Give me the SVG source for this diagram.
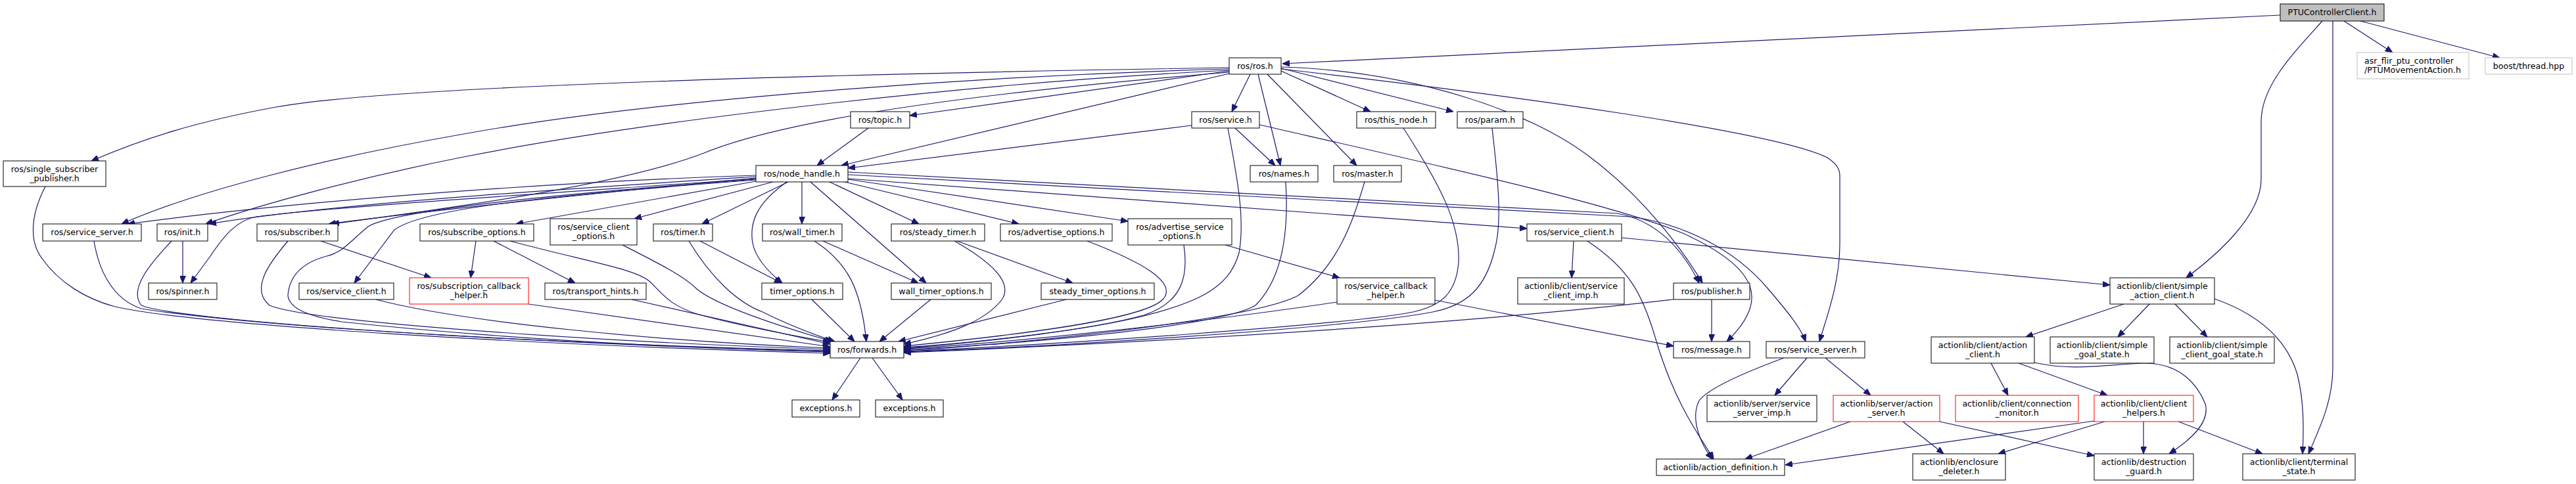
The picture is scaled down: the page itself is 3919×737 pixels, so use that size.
<svg xmlns="http://www.w3.org/2000/svg" width="3919" height="737" viewBox="0 0 3919 737">
<style>
rect{fill:#fff;stroke:#000;stroke-width:1}
.r rect{stroke:#ff0000}
.g rect{stroke:#bfbfbf}
.root rect{fill:#bfbfbf}
text{font-family:'DejaVu Sans','Liberation Sans',sans-serif;font-size:12.6px;text-anchor:middle;fill:#000}
.l text{text-anchor:start}
#edges path{fill:none;stroke:#191970;stroke-width:1.2;marker-end:url(#a)}
</style>
<defs>
<marker id="a" markerWidth="11" markerHeight="9" refX="11" refY="4.5" orient="auto" markerUnits="userSpaceOnUse"><path d="M0,0 L11,4.5 L0,9 z" fill="#191970" stroke="#191970" stroke-width="1"/></marker>
</defs>
<rect x="0" y="0" width="3919" height="737" style="fill:#fff;stroke:none"/>
<g id="edges">
<path d="M3469,23 L1951,97"/>
<path d="M3533,32 C3490,80 3440,130 3440,185 L3440,273 C3440,330 3370,390 3326,423"/>
<path d="M3549,32 L3549,560 C3549,610 3530,650 3512,691"/>
<path d="M3566,32 L3640,80"/>
<path d="M3591,32 L3803,88"/>
<path d="M1870,103 C1300,112 600,130 420,163 C300,185 220,210 139,245"/>
<path d="M1870,105 C1500,115 1000,150 700,205 C500,240 300,290 185,341"/>
<path d="M1870,107 C1500,125 1000,180 700,240 C550,270 400,310 313,341"/>
<path d="M1870,110 C1500,140 1200,180 1071,233 C950,280 700,315 505,341"/>
<path d="M1870,108 L1384,176"/>
<path d="M1870,112 L1280,252"/>
<path d="M1902,113 L1874,170"/>
<path d="M1914,113 L1948,252"/>
<path d="M1928,113 L2064,252"/>
<path d="M1949,108 L2085,170"/>
<path d="M1949,104 L2211,170"/>
<path d="M1949,102 C2150,108 2330,170 2420,240 C2500,300 2560,380 2590,431"/>
<path d="M1949,105 C2300,145 2700,200 2780,240 C2795,250 2799,258 2799,268 L2799,370 C2799,430 2780,480 2768,520"/>
<path d="M1321,195 L1243,252"/>
<path d="M1813,191 L1290,256"/>
<path d="M1879,195 L1940,252"/>
<path d="M1868,195 C1880,260 1895,330 1885,385 C1870,440 1820,465 1700,490 C1600,510 1450,525 1375,530"/>
<path d="M1916,190 C2200,255 2450,310 2560,355 C2680,410 2690,460 2627,520"/>
<path d="M1290,266 L2480,330 C2560,340 2640,380 2690,440 C2720,475 2740,500 2747,520"/>
<path d="M1290,262 L2460,325 C2520,335 2560,380 2585,431"/>
<path d="M1290,272 L2323,348"/>
<path d="M1262,277 L1398,341"/>
<path d="M1285,277 L1550,341"/>
<path d="M1290,273 L1716,337"/>
<path d="M1220,277 L1220,341"/>
<path d="M1199,277 L1068,341"/>
<path d="M1176,277 L965,333"/>
<path d="M1150,276 L785,341"/>
<path d="M1197,277 C1150,310 1140,340 1145,370 C1150,395 1170,415 1190,431"/>
<path d="M1233,277 L1409,431"/>
<path d="M1150,267 C900,275 500,300 194,341"/>
<path d="M1150,269 C900,285 500,310 318,341"/>
<path d="M1150,271 C950,290 700,315 500,341"/>
<path d="M1150,272 C900,290 500,315 390,330 C360,335 340,360 320,390 L290,431"/>
<path d="M1150,274 C800,300 640,320 600,350 L539,431"/>
<path d="M1150,273 C850,295 600,320 560,345 C530,370 520,385 497,390 C460,400 440,420 438,450 C440,470 470,482 520,490 C800,520 1100,532 1263,535"/>
<path d="M69,284 C45,330 45,370 65,395 C90,430 130,455 175,467 C300,495 800,525 1263,538"/>
<path d="M143,367 C150,410 170,455 215,470 C400,500 900,525 1263,536"/>
<path d="M278,367 L278,431"/>
<path d="M261,367 C230,400 195,440 215,465 C260,485 700,520 1263,534"/>
<path d="M438,367 C410,400 380,440 410,465 C470,490 900,520 1263,532"/>
<path d="M488,367 L656,423"/>
<path d="M572,456 C700,490 1000,520 1263,530"/>
<path d="M804,463 L1263,528"/>
<path d="M961,456 L1263,524"/>
<path d="M724,367 L716,423"/>
<path d="M751,367 L875,431"/>
<path d="M776,367 C900,400 970,410 990,430 C1010,450 1020,465 1060,478 C1120,495 1200,510 1263,521"/>
<path d="M947,373 C1000,400 1040,420 1060,440 C1090,465 1180,495 1266,520"/>
<path d="M1048,367 C1080,420 1120,460 1160,475 C1200,495 1240,510 1270,520"/>
<path d="M1065,367 L1189,431"/>
<path d="M1235,456 L1300,520"/>
<path d="M1252,367 L1397,431"/>
<path d="M1239,367 C1290,400 1310,440 1318,520"/>
<path d="M1416,456 L1338,520"/>
<path d="M1456,367 L1632,431"/>
<path d="M1452,367 C1510,400 1540,430 1525,455 C1500,490 1440,510 1375,524"/>
<path d="M1622,456 L1367,520"/>
<path d="M1654,367 C1740,400 1790,430 1770,455 C1740,490 1500,515 1375,527"/>
<path d="M1801,373 C1808,420 1800,460 1740,480 C1650,505 1450,525 1375,529"/>
<path d="M1864,373 L2038,423"/>
<path d="M1956,277 C1960,340 1955,420 1910,465 C1850,500 1500,528 1375,532"/>
<path d="M2076,277 C2060,330 2040,400 1975,450 C1900,490 1500,528 1375,534"/>
<path d="M2135,195 C2190,280 2222,340 2219,400 C2215,445 2195,465 2150,475 C2050,495 1600,525 1375,535"/>
<path d="M2270,195 C2280,280 2285,340 2274,380 C2260,440 2230,465 2180,475 C2050,500 1600,528 1375,536"/>
<path d="M2034,460 C1800,495 1500,525 1375,531"/>
<path d="M2183,457 L2546,527"/>
<path d="M2546,456 C2300,485 1900,515 1375,537"/>
<path d="M2604,456 L2604,520"/>
<path d="M2394,367 L2391,423"/>
<path d="M2415,367 C2480,410 2500,450 2520,520 C2550,620 2590,670 2607,699"/>
<path d="M2467,362 L3210,434"/>
<path d="M2714,545 C2660,565 2600,590 2585,610 C2570,640 2590,680 2605,699"/>
<path d="M2749,545 L2700,602"/>
<path d="M2777,545 L2846,602"/>
<path d="M2815,642 L2655,699"/>
<path d="M2895,642 L2957,691"/>
<path d="M2951,642 L3186,694"/>
<path d="M3186,641 L2716,708"/>
<path d="M3202,642 L3040,691"/>
<path d="M3261,642 L3261,691"/>
<path d="M3314,642 L3442,691"/>
<path d="M3029,553 L3055,602"/>
<path d="M3071,553 L3206,602"/>
<path d="M3095,552 C3150,565 3200,556 3260,553 C3320,552 3345,590 3355,615 C3362,640 3340,665 3300,691"/>
<path d="M3231,463 L3082,513"/>
<path d="M3270,463 L3222,513"/>
<path d="M3309,463 L3358,513"/>
<path d="M3369,455 C3440,480 3480,520 3495,570 C3505,610 3505,650 3503,691"/>
<path d="M1309,545 L1266,609"/>
<path d="M1327,545 L1373,609"/>
</g>
<g id="n1" class="root"><rect x="3469" y="6" width="158" height="26"/><text x="3548" y="23">PTUControllerClient.h</text></g>
<g id="n2"><rect x="1870" y="88" width="79" height="25"/><text x="1909.5" y="105">ros/ros.h</text></g>
<g id="n3" class="g l"><rect x="3586" y="80" width="170" height="40"/><text x="3597" y="96.5">asr_flir_ptu_controller</text><text x="3597" y="110.5">/PTUMovementAction.h</text></g>
<g id="n4" class="g"><rect x="3781" y="88" width="132" height="25"/><text x="3847" y="105">boost/thread.hpp</text></g>
<g id="n5"><rect x="5" y="245" width="156" height="39"/><text x="83" y="261.5">ros/single_subscriber</text><text x="83" y="275.5">_publisher.h</text></g>
<g id="n6"><rect x="65" y="341" width="150" height="26"/><text x="140" y="358">ros/service_server.h</text></g>
<g id="n7"><rect x="239" y="341" width="77" height="26"/><text x="277.5" y="358">ros/init.h</text></g>
<g id="n8"><rect x="391" y="341" width="123" height="26"/><text x="452.5" y="358">ros/subscriber.h</text></g>
<g id="n9"><rect x="639" y="341" width="173" height="26"/><text x="725.5" y="358">ros/subscribe_options.h</text></g>
<g id="n10"><rect x="837" y="333" width="132" height="40"/><text x="903" y="349.5">ros/service_client</text><text x="903" y="363.5">_options.h</text></g>
<g id="n11"><rect x="994" y="341" width="90" height="26"/><text x="1039" y="358">ros/timer.h</text></g>
<g id="n12"><rect x="1160" y="341" width="121" height="26"/><text x="1220.5" y="358">ros/wall_timer.h</text></g>
<g id="n13"><rect x="1356" y="341" width="142" height="26"/><text x="1427" y="358">ros/steady_timer.h</text></g>
<g id="n14"><rect x="1522" y="341" width="170" height="26"/><text x="1607" y="358">ros/advertise_options.h</text></g>
<g id="n15"><rect x="1716" y="333" width="158" height="40"/><text x="1795" y="349.5">ros/advertise_service</text><text x="1795" y="363.5">_options.h</text></g>
<g id="n16"><rect x="2323" y="341" width="144" height="26"/><text x="2395" y="358">ros/service_client.h</text></g>
<g id="n17"><rect x="1150" y="252" width="140" height="25"/><text x="1220" y="269">ros/node_handle.h</text></g>
<g id="n18"><rect x="1294" y="170" width="90" height="25"/><text x="1339" y="187">ros/topic.h</text></g>
<g id="n19"><rect x="1813" y="170" width="103" height="25"/><text x="1864.5" y="187">ros/service.h</text></g>
<g id="n20"><rect x="2064" y="170" width="120" height="25"/><text x="2124" y="187">ros/this_node.h</text></g>
<g id="n21"><rect x="2217" y="170" width="100" height="25"/><text x="2267" y="187">ros/param.h</text></g>
<g id="n22"><rect x="1902" y="252" width="103" height="25"/><text x="1953.5" y="269">ros/names.h</text></g>
<g id="n23"><rect x="2029" y="252" width="103" height="25"/><text x="2080.5" y="269">ros/master.h</text></g>
<g id="n24"><rect x="226" y="431" width="104" height="25"/><text x="278" y="448">ros/spinner.h</text></g>
<g id="n25"><rect x="455" y="431" width="144" height="25"/><text x="527" y="448">ros/service_client.h</text></g>
<g id="n26" class="r"><rect x="623" y="423" width="181" height="40"/><text x="713.5" y="439.5">ros/subscription_callback</text><text x="713.5" y="453.5">_helper.h</text></g>
<g id="n27"><rect x="829" y="431" width="154" height="25"/><text x="906" y="448">ros/transport_hints.h</text></g>
<g id="n28"><rect x="1159" y="431" width="123" height="25"/><text x="1220.5" y="448">timer_options.h</text></g>
<g id="n29"><rect x="1356" y="431" width="152" height="25"/><text x="1432" y="448">wall_timer_options.h</text></g>
<g id="n30"><rect x="1584" y="431" width="172" height="25"/><text x="1670" y="448">steady_timer_options.h</text></g>
<g id="n31"><rect x="2034" y="423" width="149" height="40"/><text x="2108.5" y="439.5">ros/service_callback</text><text x="2108.5" y="453.5">_helper.h</text></g>
<g id="n32"><rect x="2309" y="423" width="162" height="40"/><text x="2390" y="439.5">actionlib/client/service</text><text x="2390" y="453.5">_client_imp.h</text></g>
<g id="n33"><rect x="2546" y="431" width="116" height="25"/><text x="2604" y="448">ros/publisher.h</text></g>
<g id="n34"><rect x="3210" y="423" width="159" height="40"/><text x="3289.5" y="439.5">actionlib/client/simple</text><text x="3289.5" y="453.5">_action_client.h</text></g>
<g id="n35"><rect x="1263" y="520" width="112" height="25"/><text x="1319" y="537">ros/forwards.h</text></g>
<g id="n36"><rect x="2546" y="520" width="116" height="25"/><text x="2604" y="537">ros/message.h</text></g>
<g id="n37"><rect x="2687" y="520" width="150" height="25"/><text x="2762" y="537">ros/service_server.h</text></g>
<g id="n38"><rect x="2938" y="513" width="157" height="40"/><text x="3016.5" y="529.5">actionlib/client/action</text><text x="3016.5" y="543.5">_client.h</text></g>
<g id="n39"><rect x="3119" y="513" width="158" height="40"/><text x="3198" y="529.5">actionlib/client/simple</text><text x="3198" y="543.5">_goal_state.h</text></g>
<g id="n40"><rect x="3301" y="513" width="159" height="40"/><text x="3380.5" y="529.5">actionlib/client/simple</text><text x="3380.5" y="543.5">_client_goal_state.h</text></g>
<g id="n41"><rect x="1205" y="609" width="103" height="26"/><text x="1256.5" y="626">exceptions.h</text></g>
<g id="n42"><rect x="1332" y="609" width="103" height="26"/><text x="1383.5" y="626">exceptions.h</text></g>
<g id="n43"><rect x="2597" y="602" width="167" height="40"/><text x="2680.5" y="618.5">actionlib/server/service</text><text x="2680.5" y="632.5">_server_imp.h</text></g>
<g id="n44" class="r"><rect x="2789" y="602" width="162" height="40"/><text x="2870" y="618.5">actionlib/server/action</text><text x="2870" y="632.5">_server.h</text></g>
<g id="n45" class="r"><rect x="2975" y="602" width="187" height="40"/><text x="3068.5" y="618.5">actionlib/client/connection</text><text x="3068.5" y="632.5">_monitor.h</text></g>
<g id="n46" class="r"><rect x="3186" y="602" width="151" height="40"/><text x="3261.5" y="618.5">actionlib/client/client</text><text x="3261.5" y="632.5">_helpers.h</text></g>
<g id="n47"><rect x="2520" y="699" width="195" height="25"/><text x="2617.5" y="716">actionlib/action_definition.h</text></g>
<g id="n48"><rect x="2910" y="691" width="141" height="40"/><text x="2980.5" y="707.5">actionlib/enclosure</text><text x="2980.5" y="721.5">_deleter.h</text></g>
<g id="n49"><rect x="3186" y="691" width="151" height="40"/><text x="3261.5" y="707.5">actionlib/destruction</text><text x="3261.5" y="721.5">_guard.h</text></g>
<g id="n50"><rect x="3412" y="691" width="171" height="40"/><text x="3497.5" y="707.5">actionlib/client/terminal</text><text x="3497.5" y="721.5">_state.h</text></g>
</svg>
